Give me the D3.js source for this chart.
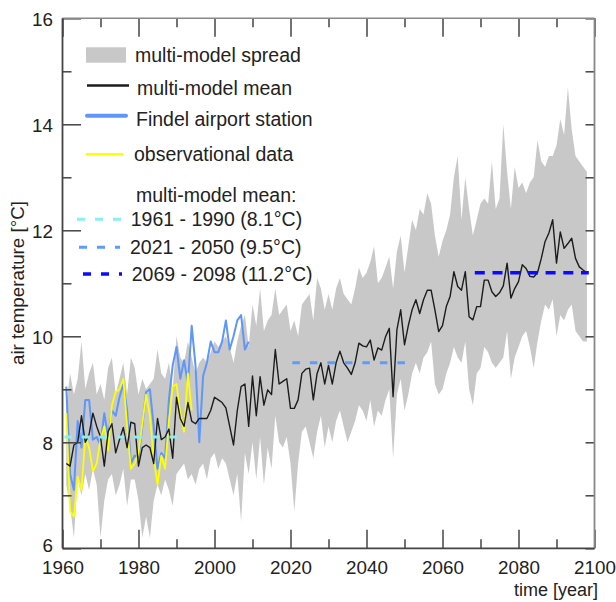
<!DOCTYPE html>
<html><head><meta charset="utf-8">
<script src="https://cdn.jsdelivr.net/npm/d3@7"></script>
<style>
body{margin:0;background:#fff}
svg{display:block}
text{font-family:"Liberation Sans",Arial,Helvetica,sans-serif;fill:#222}
</style>
</head><body>
<svg id="chart" width="616" height="602"></svg>
<script>
// ---------------- data ----------------
const modelStartYear = 1961;
const modelMean = [
  7.6, 7.55, 7.95, 8.0, 8.5, 8.0, 8.15, 8.55, 8.3, 8.1,
  7.55, 8.2, 8.35, 7.8, 8.05, 8.28, 7.9, 8.38, 8.35, 7.55,
  7.9, 7.95, 7.9, 7.6, 8.45, 8.05, 8.1, 8.25, 7.7, 8.85,
  8.45, 8.3, 8.75, 8.4, 8.35, 8.45, 8.45, 8.45, 8.6, 8.85,
  8.8, 8.75, 8.65, 8.3, 7.95, 8.6, 9.05, 9.1, 8.3, 9.25,
  8.5, 9.24, 8.7, 8.99, 8.9, 9.75, 9.1, 9.15, 9.2, 8.64,
  8.64, 8.8, 9.3, 9.38, 9.4, 8.8, 9.3, 9.5, 9.1, 9.45,
  9.1, 9.5, 9.72, 9.5, 9.4, 9.28, 9.5, 9.87, 9.82, 9.8,
  9.93, 9.55, 9.78, 9.74, 9.99, 10.15, 8.86, 10.12, 10.5, 9.84,
  10.2, 10.5, 10.69, 10.43, 10.69, 10.87, 10.87, 10.5, 10.09, 10.2,
  10.56, 10.75, 11.22, 10.94, 10.87, 11.22, 10.37, 10.31, 10.56, 10.56,
  11.06, 11.06, 10.84, 10.75, 10.82, 10.95, 11.38, 10.72, 10.9, 11.03,
  11.35, 11.28, 11.13, 11.12, 11.2, 11.47, 11.79, 11.95, 12.2, 11.38,
  11.97, 11.66, 11.75, 11.85, 11.47, 11.31, 11.25, 11.2
];
const spreadUpper = [
  8.7, 9.3, 8.9, 9.2, 9.9, 9.0, 9.3, 9.5, 8.9, 9.1,
  8.8, 9.4, 9.6, 8.9, 9.2, 9.5, 8.9, 9.6, 9.4, 8.9,
  9.2, 9.0, 9.1, 9.2, 9.75, 9.3, 9.2, 9.5, 9.0, 10.0,
  9.6, 9.5, 9.9, 9.6, 9.3, 9.5, 9.6, 9.5, 9.7, 9.9,
  9.8, 9.9, 10.0, 9.8, 9.5, 9.9, 10.2, 10.4, 9.8, 10.6,
  10.2, 10.9, 10.1, 10.3, 10.4, 10.9, 10.4, 10.5, 10.6, 10.1,
  10.3, 10.0, 10.6, 10.7, 10.8, 10.3, 11.1, 10.9, 10.5, 10.8,
  10.5, 10.9, 11.1, 10.8, 10.7, 10.6, 10.9, 11.3, 11.1, 11.2,
  11.4, 11.7, 11.0, 11.1, 11.3, 11.5, 10.9, 11.6, 11.9, 11.2,
  11.7, 12.2, 12.0, 12.4, 12.3, 12.7, 12.5, 11.9, 11.5, 11.8,
  12.0, 12.3, 13.0, 13.4, 12.2, 13.0, 12.4, 11.9, 12.2, 12.5,
  12.6, 12.5, 13.3, 12.4, 12.6, 14.0, 13.1, 12.4, 13.2, 12.8,
  12.9, 12.7, 12.9, 13.0, 13.7, 13.3, 13.2, 13.4, 13.4, 13.6,
  14.1, 13.8, 14.7, 13.9, 13.4, 13.3, 13.2, 13.1
];
const spreadLower = [
  7.2, 6.8, 6.2, 7.3, 7.0, 7.4, 7.1, 7.5, 7.2, 6.2,
  6.9, 7.3, 7.4, 7.0, 7.2, 7.5, 6.8, 7.3, 7.3, 6.9,
  6.2, 6.6, 6.2, 6.9, 7.2, 7.0, 7.3, 7.1, 6.8, 7.4,
  7.5, 7.6, 7.3, 7.4, 7.2, 7.5, 7.6, 7.3, 7.7, 7.8,
  7.5, 7.7, 7.6, 7.3, 7.0, 7.4, 6.5, 7.8, 7.4, 8.0,
  7.3, 8.1, 7.2, 7.9, 7.5, 8.5, 8.0, 7.9, 8.1, 7.6,
  6.7, 7.6, 8.2, 8.3, 8.0, 7.7, 8.2, 8.5, 7.9, 8.3,
  8.0, 8.4, 8.6, 8.3, 8.0, 8.2, 8.4, 8.7, 8.6, 8.4,
  8.8, 8.3, 8.6, 8.5, 8.8, 9.0, 7.7, 8.9, 9.2, 8.6,
  8.9, 9.3, 9.5, 9.3, 9.6, 9.7, 9.9, 9.1, 8.9, 9.0,
  9.3, 9.5, 9.8, 9.6, 9.5, 9.9, 9.0, 8.7, 9.3, 9.4,
  9.8, 9.7, 9.5, 9.4, 9.5, 9.6, 10.1, 9.2, 9.6, 9.8,
  10.0, 10.1, 9.8, 9.4, 9.9, 10.3, 10.6, 10.5, 10.7, 10.0,
  10.4, 10.3, 10.5, 10.6, 10.1, 10.0, 9.9, 9.9
];
const findelStartYear = 1961;
const findelValues = [
  9.05, 7.4, 7.1, 8.4, 7.9, 8.8, 8.8, 8.05, 8.1, 7.95,
  8.55, 8.1, 8.6, 8.5, 8.85, 9.1, 8.6, 7.6, 7.75, 7.7,
  8.3, 8.95, 9.0, 8.3, 7.5, 7.8, 7.7, 8.8, 9.45, 9.8,
  9.2, 9.55, 9.1, 10.2, 9.45, 8.0, 9.25, 9.5, 9.9, 9.7,
  9.7, 9.9, 10.3, 9.75, 10.0, 10.3, 10.4, 9.75, 9.9
];
const obsStartYear = 1961;
const obsValues = [
  8.55, 6.7, 6.6, 7.35, 7.1, 8.1, 7.9, 7.45, 7.6, 8.05,
  8.3, 7.85, 8.7, 8.95, 9.0, 9.2, 8.3, 7.5, 7.6, 7.8,
  8.35, 8.9, 8.5, 7.7, 7.2, 7.75, 7.5, 8.4, 9.05, 9.1,
  8.55, 8.2, 9.3, 8.6
];
const periodStart = [1961, 2021, 2069];
const periodEnd = [1990, 2050, 2098];
const periodMean = [8.1, 9.5, 11.2];
const periodLabels = ["1961 - 1990 (8.1°C)", "2021 - 2050 (9.5°C)", "2069 - 2098 (11.2°C)"];
const legendLabels = ["multi-model spread", "multi-model mean", "Findel airport station", "observational data", "multi-model mean:"];
const xMajorTicks = [1960, 1980, 2000, 2020, 2040, 2060, 2080, 2100];
const xMinorTicks = [1970, 1990, 2010, 2030, 2050, 2070, 2090];
const yMajorTicks = [6, 8, 10, 12, 14, 16];
const yMinorTicks = [7, 9, 11, 13, 15];
const yAllTicks = [6, 7, 8, 9, 10, 11, 12, 13, 14, 15, 16];
const xTitle = "time [year]";
const yTitle = "air temperature [°C]";

// ---------------- styles ----------------
const C = {
  spread: "#c8c8c8",
  mean: "#1c1c1c",
  findel: "#5f96fa",
  obs: "#ffff00",
  period: ["#88f0f0", "#5c9cff", "#0a0aff"],
  axis: "#444"
};
const periodDash = ["7.5,10", "7.5,10", "10,7.7"];
const periodWidth = [3, 3, 3.6];

const svg = d3.select("#chart");
const L = 62.5, R = 594.5, T = 18.3, B = 548.3;
const x = d3.scaleLinear().domain([1960, 2100]).range([L, R]);
const y = d3.scaleLinear().domain([6, 16]).range([B, T]);

const series = (start, vals) => vals.map((v, i) => ({yr: start + i, v}));
const meanData = series(modelStartYear, modelMean);
const spreadData = spreadUpper.map((u, i) => ({yr: modelStartYear + i, u, l: spreadLower[i]}));

// spread
svg.append("path")
  .datum(spreadData)
  .attr("fill", C.spread)
  .attr("d", d3.area().x(d => x(d.yr)).y0(d => y(d.l)).y1(d => y(d.u)));

const line = d3.line().x(d => x(d.yr)).y(d => y(d.v));

svg.append("path").datum(series(findelStartYear, findelValues))
  .attr("fill", "none").attr("stroke", C.findel).attr("stroke-width", 2).attr("stroke-linejoin", "round")
  .attr("d", line);
svg.append("path").datum(series(obsStartYear, obsValues))
  .attr("fill", "none").attr("stroke", C.obs).attr("stroke-width", 1.8).attr("stroke-linejoin", "round")
  .attr("d", line);
svg.append("path").datum(meanData)
  .attr("fill", "none").attr("stroke", C.mean).attr("stroke-width", 1.4).attr("stroke-linejoin", "round")
  .attr("d", line);

// period means
periodMean.forEach((m, i) => {
  svg.append("line")
    .attr("x1", x(periodStart[i] - 0.5)).attr("x2", x(periodEnd[i] + 0.5))
    .attr("y1", y(m)).attr("y2", y(m))
    .attr("stroke", C.period[i]).attr("stroke-width", periodWidth[i])
    .attr("stroke-dasharray", periodDash[i]);
});

// axes
const fs = "18.8px";
function styleAxis(g) {
  g.select(".domain").remove();
  g.selectAll(".tick line").attr("stroke", C.axis).attr("stroke-width", 1.5);
  g.selectAll(".tick text").attr("font-size", fs).attr("fill", "#222")
    .style("font-family", '"Liberation Sans",Arial,sans-serif');
}
svg.append("g").attr("transform", `translate(0,${B})`)
  .call(d3.axisBottom(x).tickValues(xMajorTicks).tickSize(-18.5).tickPadding(12).tickFormat(d3.format("d")))
  .call(styleAxis);
svg.append("g").attr("transform", `translate(0,${B})`)
  .call(d3.axisBottom(x).tickValues(xMinorTicks).tickSize(-9).tickFormat(""))
  .call(styleAxis);
svg.append("g").attr("transform", `translate(0,${T})`)
  .call(d3.axisTop(x).tickValues(xMajorTicks).tickSize(-18.5).tickFormat(""))
  .call(styleAxis);
svg.append("g").attr("transform", `translate(0,${T})`)
  .call(d3.axisTop(x).tickValues(xMinorTicks).tickSize(-9).tickFormat(""))
  .call(styleAxis);
const yl = svg.append("g").attr("transform", `translate(${L},0)`)
  .call(d3.axisLeft(y).tickValues(yMajorTicks).tickSize(-18.5).tickPadding(9.5).tickFormat(d3.format("d")))
  .call(styleAxis);
yl.selectAll(".tick text").attr("dy", d => d === 6 ? "0.15em" : "0.38em");
svg.append("g").attr("transform", `translate(${L},0)`)
  .call(d3.axisLeft(y).tickValues(yMinorTicks).tickSize(-9).tickFormat(""))
  .call(styleAxis);
svg.append("g").attr("transform", `translate(${R},0)`)
  .call(d3.axisRight(y).tickValues(yAllTicks).tickSize(-9).tickFormat(""))
  .call(styleAxis);

// frame
svg.append("line").attr("x1", L).attr("x2", R).attr("y1", T).attr("y2", T).attr("stroke", "#888").attr("stroke-width", 1.5);
svg.append("line").attr("x1", R).attr("x2", R).attr("y1", T).attr("y2", B).attr("stroke", "#888").attr("stroke-width", 1.8);
svg.append("line").attr("x1", L).attr("x2", R).attr("y1", B).attr("y2", B).attr("stroke", "#444").attr("stroke-width", 1.8);
svg.append("line").attr("x1", L).attr("x2", L).attr("y1", T).attr("y2", B).attr("stroke", "#444").attr("stroke-width", 1.8);

// titles
svg.append("text").attr("x", 598).attr("y", 595.5).attr("text-anchor", "end").attr("font-size", "18px").text(xTitle);
svg.append("text").attr("transform", "translate(24,283) rotate(-90)").attr("text-anchor", "middle").attr("font-size", fs).text(yTitle);

// legend
const lg = svg.append("g");
const lfs = "19.5px";
lg.append("rect").attr("x", 86).attr("y", 47.3).attr("width", 40).attr("height", 15.4).attr("fill", C.spread);
lg.append("line").attr("x1", 87).attr("x2", 129).attr("y1", 85.5).attr("y2", 85.5).attr("stroke", C.mean).attr("stroke-width", 2.5);
lg.append("line").attr("x1", 87).attr("x2", 126).attr("y1", 115.7).attr("y2", 115.7).attr("stroke", C.findel).attr("stroke-width", 4).attr("stroke-linecap", "round");
lg.append("line").attr("x1", 86).attr("x2", 123).attr("y1", 154.3).attr("y2", 154.3).attr("stroke", C.obs).attr("stroke-width", 2.5);
const textX = [135, 137, 136, 134, 136];
const textCY = [55, 88.3, 119.3, 154.3, 195];
legendLabels.forEach((t, i) => {
  lg.append("text").attr("x", textX[i]).attr("y", textCY[i] + 7).attr("font-size", lfs).text(t);
});
const pLineX = [[77, 122], [79, 120], [83, 122]];
const pLineY = [219.3, 247.3, 274];
const pTextX = [130.7, 130, 131.7];
periodLabels.forEach((t, i) => {
  lg.append("line").attr("x1", pLineX[i][0]).attr("x2", pLineX[i][1]).attr("y1", pLineY[i]).attr("y2", pLineY[i])
    .attr("stroke", C.period[i]).attr("stroke-width", periodWidth[i]).attr("stroke-dasharray", "8,10");
  lg.append("text").attr("x", pTextX[i]).attr("y", pLineY[i] + 7).attr("font-size", lfs).text(t);
});
</script>
</body></html>
